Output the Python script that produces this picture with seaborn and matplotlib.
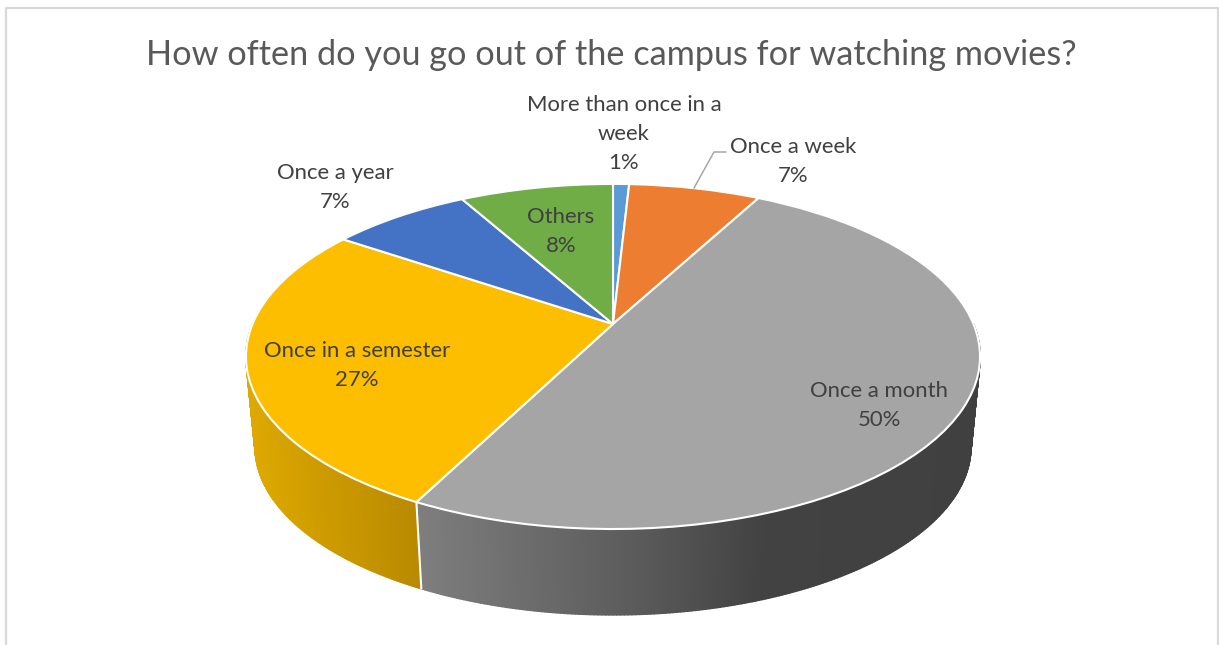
import numpy as np
import matplotlib
matplotlib.use("Agg")
from matplotlib import pyplot as plt
from matplotlib import colors as mcolors
from matplotlib.collections import PolyCollection
from matplotlib.transforms import Transform
import seaborn as sns

title = "How often do you go out of the campus for watching movies?"
categories = ["More than once in a\nweek", "Once a week", "Once a month",
              "Once in a semester", "Once a year", "Others"]
shares = [0.85, 6.95, 49.7, 27.0, 7.4, 8.1]
slice_colors = ["#5B9BD5", "#ED7D31", "#A5A5A5", "#FDBE00", "#4472C4", "#70AD47"]

# label centres in pixels (first line, like the reference)
label_pos = [(624, 105), (793, 147), (879, 391), (357, 351), (335, 173), (561, 217)]

HUB_X, HUB_Y = 613.0, 324.0
RADIUS, SQUASH, K = 360.5, 166.4, 0.188
LOWER_HUB_Y, LOWER_SCALE = 415.0, 0.975


def project(x, y, hub_y=HUB_Y, scale=1.0):
    w = 1 + K * y
    return HUB_X + scale * RADIUS * x / w, hub_y - scale * SQUASH * y / w


class Tilt(Transform):
    input_dims = 2
    output_dims = 2
    has_inverse = False

    def transform_non_affine(self, xy):
        xy = np.asarray(xy, dtype=float)
        px, py = project(xy[:, 0], xy[:, 1])
        return np.column_stack([px, py])


def wall(start, stop, stops_x, stops_c, ax):
    # side of the disc, one thin quad per step, shaded by screen x
    rgb = np.array([mcolors.to_rgb(c) for c in stops_c])
    th = np.radians(np.arange(start, stop + 0.5, 0.5))
    th[-1] = np.radians(stop)
    xt, yt = project(np.sin(th), np.cos(th))
    xb, yb = project(np.sin(th), np.cos(th), LOWER_HUB_Y, LOWER_SCALE)
    quads, faces = [], []
    for i in range(len(th) - 1):
        quads.append([(xt[i], yt[i]), (xt[i + 1], yt[i + 1]), (xb[i + 1], yb[i + 1]), (xb[i], yb[i])])
        mid = (xb[i] + xb[i + 1]) / 2
        faces.append([np.interp(mid, stops_x, rgb[:, j]) for j in range(3)])
    ax.add_collection(PolyCollection(quads, facecolors=faces, edgecolors=faces, linewidths=1.2, zorder=1))


sns.set_theme(style="white")
plt.rcParams["font.family"] = ["Lato", "DejaVu Sans"]

fig = plt.figure(figsize=(12.19, 6.45), dpi=100)
ax = fig.add_axes([0, 0, 1, 1])

wedges, _ = ax.pie(shares, colors=sns.color_palette(slice_colors), startangle=90, counterclock=False,
                   wedgeprops={"edgecolor": "white", "linewidth": 1.5, "zorder": 3})
ax.set_aspect("auto")
ax.set_xlim(0, 1219)
ax.set_ylim(645, 0)
ax.set_axis_off()

tilt = Tilt() + ax.transData
for w in wedges:
    w.set_transform(tilt)

ends = np.cumsum(shares) / np.sum(shares) * 360
month_end = ends[2]
wall(90, month_end, [421, 640, 760, 985], ["#7E7E7E", "#5A5A5A", "#424242", "#404040"], ax)
wall(month_end, 270, [247, 420], ["#DFAA00", "#B98A00"], ax)

# white seam between the two visible side faces
th = np.radians(month_end)
x0, y0 = project(np.sin(th), np.cos(th))
x1, y1 = project(np.sin(th), np.cos(th), LOWER_HUB_Y, LOWER_SCALE)
ax.plot([x0, x1], [y0, y1], color="white", lw=1.5, zorder=2)

# chart frame, cut off at the bottom
ax.plot([6, 6, 1218, 1218], [645, 8, 8, 645], color="#D9D9D9", lw=1.6, zorder=0, clip_on=False)

# leader line of the orange slice
ax.plot([694, 714, 726], [188, 152, 152], color="#A6A6A6", lw=1.1, zorder=4)

ax.text(611, 55, title, ha="center", va="center", fontsize=24.7, color="#595959")

for cat, share, (lx, ly) in zip(categories, shares, label_pos):
    lines = cat.split("\n") + [f"{share:.0f}%"]
    for i, line in enumerate(lines):
        ax.text(lx, ly + i * 29, line, ha="center", va="center", fontsize=15.9, color="#404040", zorder=5)

fig.savefig("out.png", dpi=100)
